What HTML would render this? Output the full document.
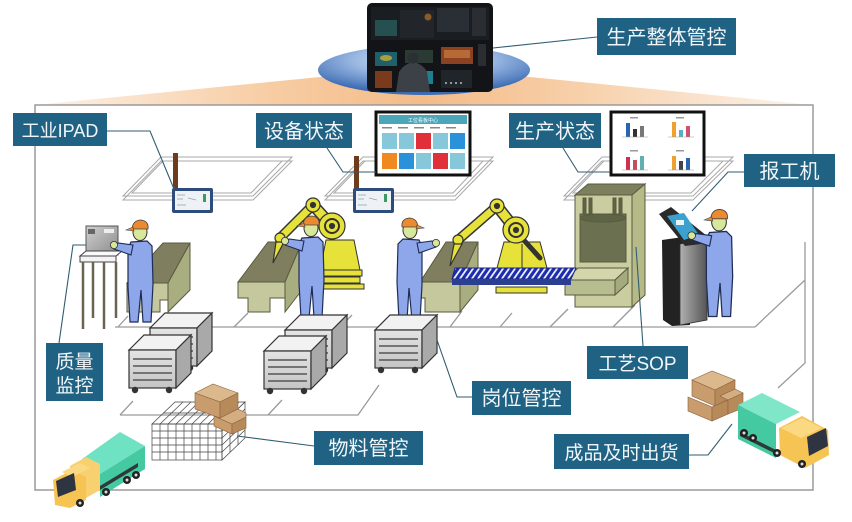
<!DOCTYPE html>
<html><head><meta charset="utf-8">
<style>
html,body{margin:0;padding:0;background:#fff;overflow:hidden;}
svg{display:block;}
.lt{fill:#f2f6f8;font-family:"Liberation Sans","Noto Sans CJK SC",sans-serif;text-anchor:middle;}
</style></head><body>
<svg width="852" height="522" viewBox="0 0 852 522" xmlns="http://www.w3.org/2000/svg">
<defs>
<linearGradient id="roof" x1="0" y1="0" x2="1" y2="0">
<stop offset="0" stop-color="#fdf1e6"/><stop offset="0.3" stop-color="#f7cda4"/><stop offset="0.5" stop-color="#f4bb88"/><stop offset="0.7" stop-color="#f7d0aa"/><stop offset="1" stop-color="#fdf3ea"/>
</linearGradient>
<radialGradient id="ell" cx="0.5" cy="0.3" r="0.65">
<stop offset="0" stop-color="#e6eefa"/><stop offset="0.5" stop-color="#9bb9e3"/><stop offset="1" stop-color="#3d6cb3"/>
</radialGradient>
<linearGradient id="cartf" x1="0" y1="0" x2="0" y2="1"><stop offset="0" stop-color="#e4e4e4"/><stop offset="1" stop-color="#c4c4c4"/></linearGradient>
<linearGradient id="kio" x1="0" y1="0" x2="1" y2="0"><stop offset="0" stop-color="#b0b0b0"/><stop offset="1" stop-color="#555"/></linearGradient>
<linearGradient id="inst" x1="0" y1="0" x2="1" y2="1"><stop offset="0" stop-color="#d0d0d0"/><stop offset="1" stop-color="#8a8a8a"/></linearGradient>
<pattern id="stripe" width="6" height="12" patternUnits="userSpaceOnUse" patternTransform="skewX(-35)">
<rect width="6" height="12" fill="#1b2cae"/><rect x="0" width="2.2" height="12" fill="#eef0ff"/>
</pattern>
<g id="cart">
<polygon points="0,15 15,0 62,0 47,15" fill="#f2f2f2" stroke="#333" stroke-width="1.2"/>
<rect x="0" y="15" width="47" height="38" fill="url(#cartf)" stroke="#333" stroke-width="1.2"/>
<g stroke="#555" stroke-width="1.6"><line x1="4" y1="24" x2="43" y2="24"/><line x1="4" y1="31" x2="43" y2="31"/><line x1="4" y1="38" x2="43" y2="38"/><line x1="4" y1="45" x2="43" y2="45"/></g>
<polygon points="47,15 62,0 62,38 47,53" fill="#a9a9a9" stroke="#333" stroke-width="1.2"/>
<circle cx="6" cy="55" r="3.2" fill="#333"/><circle cx="40" cy="55" r="3.2" fill="#333"/>
</g>
<g id="wk">
<path d="M-9,10 L7,9 L12,14 L13,52 L11,90 L3,90 L1,58 L-2,90 L-10,90 L-12,55 L-12,16 Z" fill="#8ea7ea" stroke="#1f2c55" stroke-width="1.2"/>
<path d="M-7,13 L-22,11 L-26,17 L-9,23 Z" fill="#8ea7ea" stroke="#1f2c55" stroke-width="1.1"/>
<circle cx="-26" cy="13" r="3.6" fill="#d7e79c" stroke="#333" stroke-width="0.8"/>
<ellipse cx="0" cy="0" rx="7" ry="8.5" fill="#d7e79c" stroke="#333" stroke-width="1"/>
<path d="M-8,-3 Q-7,-12 1,-12 Q9,-11 8,-3 Z" fill="#ec8a30" stroke="#444" stroke-width="0.8"/>
<path d="M-7,-5 L-14,-2 L-6,-1 Z" fill="#ec8a30" stroke="#444" stroke-width="0.6"/>
</g>
</defs>

<!-- roof and frame -->
<polygon points="35,105 330,76 520,76 813,105" fill="url(#roof)"/>
<rect x="35" y="105" width="778" height="385" fill="none" stroke="#9a9a9a" stroke-width="1.5"/>

<!-- floor lines -->
<g stroke="#9a9a9a" stroke-width="1.3" fill="none">
<line x1="115" y1="327" x2="755" y2="327"/>
<line x1="755" y1="327" x2="805" y2="280"/>
<polyline points="805,242 805,363 778,388"/>
<polyline points="120,415 358,415 379,385"/>
<line x1="120" y1="415" x2="133" y2="401"/>
<line x1="118" y1="327" x2="128" y2="316"/>
<line x1="234" y1="327" x2="248" y2="313"/>
<line x1="290" y1="327" x2="302" y2="315"/>
<line x1="340" y1="327" x2="352" y2="315"/>
<line x1="450" y1="327" x2="462" y2="311"/>
<line x1="500" y1="327" x2="512" y2="313"/>
<line x1="550" y1="327" x2="568" y2="309"/>
<line x1="613" y1="327" x2="635" y2="305"/>
<line x1="268" y1="415" x2="282" y2="400"/>
</g>

<!-- ceiling platforms -->
<g fill="none" stroke="#a8a8a8" stroke-width="1">
<polygon points="123,200 161,161 292,161 253,200"/>
<polygon points="123,196 161,157 292,157 253,196"/>
<polygon points="132,193 163,161 282,161 251,193"/>
<polygon points="325,200 363,161 493,161 455,200"/>
<polygon points="325,196 363,157 493,157 455,196"/>
<polygon points="334,193 365,161 483,161 453,193"/>
<polygon points="564,200 602,161 733,161 693,200"/>
<polygon points="564,196 602,157 733,157 693,196"/>
<polygon points="573,193 604,161 723,161 691,193"/>
</g>

<!-- poles and tablets -->
<rect x="173" y="153" width="5" height="37" fill="#6e3b1c"/>
<rect x="354" y="156" width="5" height="34" fill="#6e3b1c"/>
<rect x="172" y="188" width="41" height="25" rx="2" fill="#2d4c7c"/>
<rect x="175" y="191" width="35" height="19" fill="#eef2f6"/>
<g stroke="#8aa" stroke-width="0.8"><line x1="177" y1="195" x2="185" y2="195"/><line x1="177" y1="199" x2="183" y2="199"/><line x1="188" y1="198" x2="196" y2="200"/><line x1="177" y1="205" x2="186" y2="205"/></g>
<rect x="203" y="194" width="3" height="8" fill="#3a9a60"/>
<rect x="353" y="188" width="41" height="25" rx="2" fill="#2d4c7c"/>
<rect x="356" y="191" width="35" height="19" fill="#eef2f6"/>
<g stroke="#8aa" stroke-width="0.8"><line x1="358" y1="195" x2="366" y2="195"/><line x1="358" y1="199" x2="364" y2="199"/><line x1="369" y1="198" x2="377" y2="200"/><line x1="358" y1="205" x2="367" y2="205"/></g>
<rect x="384" y="194" width="3" height="8" fill="#3a9a60"/>

<!-- dashboard screen -->
<rect x="376" y="112" width="94" height="63" fill="#fff" stroke="#111" stroke-width="3"/>
<rect x="379" y="115" width="88" height="9" fill="#4aa6b8"/>
<text x="423" y="122" font-size="5" fill="#fff" font-family="Liberation Sans, Noto Sans CJK SC, sans-serif" text-anchor="middle">工位看板中心</text>
<g fill="#888"><rect x="382" y="127" width="10" height="1.5"/><rect x="398" y="127" width="10" height="1.5"/><rect x="414" y="127" width="10" height="1.5"/><rect x="430" y="127" width="10" height="1.5"/><rect x="446" y="127" width="10" height="1.5"/></g>
<rect x="382" y="133" width="15" height="16" fill="#86c7da"/>
<rect x="399" y="133" width="15" height="16" fill="#86c7da"/>
<rect x="416" y="133" width="15" height="16" fill="#e0303a"/>
<rect x="433" y="133" width="15" height="16" fill="#86c7da"/>
<rect x="450" y="133" width="15" height="16" fill="#2a92da"/>
<rect x="382" y="153" width="15" height="16" fill="#f08a20"/>
<rect x="399" y="153" width="15" height="16" fill="#2a92da"/>
<rect x="416" y="153" width="15" height="16" fill="#86c7da"/>
<rect x="433" y="153" width="15" height="16" fill="#e0303a"/>
<rect x="450" y="153" width="15" height="16" fill="#86c7da"/>

<!-- chart screen -->
<rect x="611" y="112" width="93" height="63" fill="#fff" stroke="#111" stroke-width="3"/>
<g>
<rect x="626" y="123" width="4" height="14" fill="#2a66b0"/><rect x="633" y="129" width="4" height="8" fill="#333"/><rect x="640" y="126" width="4" height="11" fill="#777"/>
<rect x="672" y="122" width="4" height="15" fill="#f0a030"/><rect x="679" y="130" width="4" height="7" fill="#5ab0c0"/><rect x="686" y="126" width="4" height="11" fill="#d05070"/>
<rect x="626" y="157" width="4" height="13" fill="#d03050"/><rect x="633" y="160" width="4" height="10" fill="#c05060"/><rect x="640" y="156" width="4" height="14" fill="#60b0b0"/>
<rect x="672" y="156" width="4" height="14" fill="#f0a030"/><rect x="679" y="161" width="4" height="9" fill="#444"/><rect x="686" y="158" width="4" height="12" fill="#2a66b0"/>
</g>
<g stroke="#999" stroke-width="0.6"><line x1="622" y1="137" x2="648" y2="137"/><line x1="668" y1="137" x2="694" y2="137"/><line x1="622" y1="170" x2="648" y2="170"/><line x1="668" y1="170" x2="694" y2="170"/></g>
<g fill="#999"><rect x="630" y="117" width="8" height="1.5"/><rect x="676" y="117" width="8" height="1.5"/><rect x="630" y="150" width="8" height="1.5"/><rect x="676" y="150" width="8" height="1.5"/></g>

<!-- workstations -->
<g stroke="#5a5a40" stroke-width="1">
<polygon points="127,283 163,243 190,243 168,283" fill="#7f7f60"/>
<polygon points="127,283 168,283 168,300 160,300 160,312 127,312" fill="#c4c89c"/>
<polygon points="168,283 190,243 190,290 168,312" fill="#a9ae80"/>

<polygon points="238,282 268,242 302,242 285,282" fill="#7f7f60"/>
<polygon points="238,282 285,282 285,298 270,298 270,312 248,312 248,298 238,298" fill="#c4c89c"/>
<polygon points="285,282 302,242 302,290 285,312" fill="#a9ae80"/>

<polygon points="420,282 446,242 478,242 460,282" fill="#7f7f60"/>
<polygon points="420,282 460,282 460,312 425,312 425,298 420,298" fill="#c4c89c"/>
<polygon points="460,282 478,242 478,290 460,312" fill="#a9ae80"/>
</g>

<!-- SOP machine -->
<g stroke="#5a5a40" stroke-width="1">
<polygon points="575,195 588,184 645,184 632,195" fill="#7d805e"/>
<rect x="575" y="195" width="57" height="112" fill="#c9cd9f"/>
<polygon points="632,195 645,184 645,295 632,307" fill="#b5ba88"/>
<rect x="580" y="214" width="46" height="48" fill="#6b7150"/>
<ellipse cx="603" cy="218" rx="23" ry="4" fill="#5e6446"/>
<rect x="583" y="198" width="3" height="16" fill="#5e6446"/><rect x="589" y="198" width="3" height="16" fill="#5e6446"/>
<rect x="613" y="198" width="3" height="16" fill="#5e6446"/><rect x="619" y="198" width="3" height="16" fill="#5e6446"/>
<polygon points="565,280 578,268 628,268 615,280" fill="#d2d6aa"/>
<rect x="565" y="280" width="50" height="15" fill="#b8bd8f"/>
<polygon points="615,280 628,268 628,283 615,295" fill="#a5aa7c"/>
</g>

<!-- robot 1 -->
<g stroke="#333" stroke-width="1">
<polygon points="326,240 354,240 360,270 320,270" fill="#e6e23a"/>
<rect x="320" y="270" width="42" height="6" fill="#e6e23a"/>
<rect x="324" y="277" width="36" height="6" fill="#e6e23a"/>
<rect x="318" y="284" width="46" height="5" fill="#e6e23a"/>
</g>
<g stroke-linecap="round">
<line x1="332" y1="226" x2="313" y2="205" stroke="#333" stroke-width="12"/>
<line x1="332" y1="226" x2="313" y2="205" stroke="#e6e23a" stroke-width="9"/>
<line x1="313" y1="205" x2="280" y2="238" stroke="#333" stroke-width="10"/>
<line x1="313" y1="205" x2="280" y2="238" stroke="#e6e23a" stroke-width="7"/>
</g>
<g stroke="#333" stroke-width="1.2">
<circle cx="332" cy="226" r="13" fill="#e6e23a"/><circle cx="332" cy="226" r="7" fill="#e6e23a" stroke-width="2"/><circle cx="332" cy="226" r="2.5" fill="#333"/>
<circle cx="313" cy="205" r="7" fill="#e6e23a"/><circle cx="313" cy="205" r="2.5" fill="#333"/>
<circle cx="280" cy="238" r="5" fill="#e6e23a"/>
<polygon points="276,242 284,242 273,263" fill="#e6e23a"/>
</g>

<!-- robot 2 -->
<g stroke="#333" stroke-width="1">
<polygon points="504,242 540,242 547,268 497,268" fill="#e6e23a"/>
<line x1="522" y1="244" x2="522" y2="268"/>
<rect x="496" y="287" width="51" height="6" fill="#e6e23a"/>
</g>
<g stroke-linecap="round">
<line x1="516" y1="230" x2="497" y2="206" stroke="#333" stroke-width="12"/>
<line x1="516" y1="230" x2="497" y2="206" stroke="#e6e23a" stroke-width="9"/>
<line x1="497" y1="206" x2="458" y2="240" stroke="#333" stroke-width="10"/>
<line x1="497" y1="206" x2="458" y2="240" stroke="#e6e23a" stroke-width="7"/>
<line x1="522" y1="238" x2="540" y2="258" stroke="#333" stroke-width="5"/>
</g>
<g stroke="#333" stroke-width="1.2">
<circle cx="516" cy="230" r="13" fill="#e6e23a"/><circle cx="516" cy="230" r="7" fill="#e6e23a" stroke-width="2"/><circle cx="516" cy="230" r="2.5" fill="#333"/>
<circle cx="497" cy="206" r="7" fill="#e6e23a"/><circle cx="497" cy="206" r="2.5" fill="#333"/>
<circle cx="458" cy="240" r="5" fill="#e6e23a"/>
<polygon points="454,244 462,244 450,266" fill="#e6e23a"/>
</g>

<!-- conveyor -->
<polygon points="455,268 576,268 571,279 452,279" fill="url(#stripe)" stroke="#1a2480" stroke-width="1"/>
<polygon points="452,279 571,279 571,285 452,285" fill="#2a3f8f"/>

<!-- kiosk -->
<polygon points="662,240 690,236 690,325 672,326 663,320" fill="#222"/>
<polygon points="680,244 707,238 707,320 680,325" fill="url(#kio)" stroke="#333" stroke-width="0.8"/>
<polygon points="659,214 671,207 707,236 701,244 685,246" fill="#2a2a2a"/>
<polygon points="667,216 684,213 699,235 684,240" fill="#3ba2cf"/>
<rect x="676" y="220" width="8" height="5" fill="#e8f4fa"/>

<!-- quality instrument -->
<rect x="86" y="226" width="32" height="29" fill="url(#inst)" stroke="#555" stroke-width="1"/>
<rect x="88" y="229" width="7" height="5" fill="#666"/>
<rect x="104" y="229" width="10" height="4" fill="#eee"/>
<polygon points="80,256 86,251 122,251 116,256" fill="#fafafa" stroke="#444" stroke-width="1"/>
<rect x="80" y="256" width="36" height="6" fill="#f4f4f4" stroke="#444" stroke-width="1"/>
<g stroke="#6a6450" stroke-width="2.5"><line x1="83" y1="262" x2="83" y2="329"/><line x1="93" y1="262" x2="93" y2="318"/><line x1="104" y1="262" x2="104" y2="329"/><line x1="116" y1="262" x2="116" y2="318"/></g>

<!-- workers -->
<use href="#wk" transform="translate(140,232)"/>
<use href="#wk" transform="translate(311,228)"/>
<use href="#wk" transform="translate(410,230) scale(-1,1)"/>
<use href="#wk" transform="translate(719,222) scale(1.05)"/>

<!-- carts -->
<use href="#cart" x="150" y="313"/>
<use href="#cart" x="129" y="335"/>
<use href="#cart" x="285" y="315"/>
<use href="#cart" x="264" y="336"/>
<use href="#cart" x="375" y="315"/>

<!-- cages -->
<g stroke="#444" stroke-width="0.7" fill="none">
<rect x="152" y="424" width="70" height="36"/>
<path d="M160,424V460M168,424V460M176,424V460M184,424V460M192,424V460M200,424V460M208,424V460M216,424V460M152,431H222M152,438H222M152,445H222M152,452H222"/>
<polygon points="152,424 175,402 245,402 222,424"/>
<path d="M160,424L183,402M168,424L191,402M176,424L199,402M184,424L207,402M192,424L215,402M200,424L223,402M208,424L231,402M216,424L239,402M163,413H233"/>
<polygon points="222,424 245,402 245,438 222,460"/>
<path d="M230,416V452M238,409V445M222,431L245,409M222,438L245,416M222,445L245,423M222,452L245,430"/>
</g>

<!-- boxes on cage -->
<g stroke="#8a6440" stroke-width="0.6">
<polygon points="195,393 213,384 238,393 220,402" fill="#dcb98c"/>
<polygon points="195,393 220,402 220,418 195,409" fill="#c89c6c"/>
<polygon points="220,402 238,393 238,409 220,418" fill="#b78a5a"/>
<polygon points="214,416 232,424 232,434 214,426" fill="#c89c6c"/>
<polygon points="232,424 246,417 246,428 232,434" fill="#b78a5a"/>
<polygon points="220,418 238,409 246,413 246,417 232,424 214,416" fill="#d4ae80"/>
</g>

<!-- right boxes -->
<g stroke="#8a6440" stroke-width="0.6">
<polygon points="692,380 712,371 735,380 715,390" fill="#dcb98c"/>
<polygon points="692,380 715,390 715,406 692,396" fill="#c89c6c"/>
<polygon points="715,390 735,380 735,396 715,406" fill="#b78a5a"/>
<polygon points="688,397 712,407 712,421 688,411" fill="#c89c6c"/>
<polygon points="712,407 728,400 728,414 712,421" fill="#b78a5a"/>
<polygon points="728,400 743,393 743,408 728,414" fill="#b78a5a"/>
<polygon points="735,389 743,393 728,400 720,396" fill="#d4ae80"/>
</g>

<!-- left truck -->
<polygon points="82,459 120,432 145,446 100,474" fill="#6fe2c4"/>
<polygon points="100,474 145,446 145,469 100,497" fill="#45c9a0"/>
<polygon points="100,486 138,463 138,467 100,490" fill="#2e3a3a"/>
<polygon points="70,466 86,457 100,464 100,490 86,498 70,490" fill="#f8d070"/>
<polygon points="53,480 72,470 86,477 86,500 70,508 55,505" fill="#f6c452"/>
<polygon points="62,472 80,463 90,468 72,477" fill="#fbd983"/>
<polygon points="56,481 74,473 76,490 58,497" fill="#2e3440"/>
<g fill="#222"><circle cx="80" cy="503" r="4"/><circle cx="106" cy="492" r="4"/><circle cx="127" cy="480" r="4"/><circle cx="136" cy="475" r="4"/></g>
<g fill="#ddd"><circle cx="80" cy="503" r="1.5"/><circle cx="106" cy="492" r="1.5"/><circle cx="127" cy="480" r="1.5"/><circle cx="136" cy="475" r="1.5"/></g>

<!-- right truck -->
<polygon points="738,405 762,393 800,412 776,424" fill="#7fe6c8"/>
<polygon points="738,405 776,424 776,458 738,439" fill="#45c9a0"/>
<polygon points="740,432 776,450 776,454 740,436" fill="#2e3a3a"/>
<polygon points="779,428 802,416 828,430 829,455 805,468 780,455" fill="#f6c452"/>
<polygon points="781,428 802,418 822,428 801,438" fill="#fbd983"/>
<polygon points="807,437 826,428 828,446 809,456" fill="#2e3440"/>
<g fill="#222"><circle cx="744" cy="433" r="4"/><circle cx="753" cy="438" r="4"/><circle cx="777" cy="453" r="4"/><circle cx="802" cy="464" r="4"/></g>
<g fill="#ddd"><circle cx="744" cy="433" r="1.5"/><circle cx="753" cy="438" r="1.5"/><circle cx="777" cy="453" r="1.5"/><circle cx="802" cy="464" r="1.5"/></g>

<!-- connectors -->
<g stroke="#2f5e72" stroke-width="1.1" fill="none">
<line x1="493" y1="48" x2="597" y2="37"/>
<polyline points="107,131 150,131 174,189"/>
<polyline points="327,148 343,172 376,172"/>
<polyline points="563,148 578,172 610,172"/>
<polyline points="744,172 728,172 692,211"/>
<polyline points="59,343 73,245 86,245"/>
<polyline points="472,397 457,397 437,340"/>
<line x1="314" y1="446" x2="237" y2="436"/>
<line x1="636" y1="247" x2="643" y2="346"/>
<polyline points="689,455 708,455 732,424"/>
</g>

<!-- ellipse & photo -->
<ellipse cx="424" cy="70" rx="106" ry="25" fill="url(#ell)"/>
<rect x="367" y="3" width="126" height="89" rx="5" fill="#121417"/>
<rect x="371" y="7" width="118" height="33" fill="#1a1e23"/>
<rect x="375" y="20" width="22" height="16" fill="#24504f"/>
<rect x="400" y="10" width="34" height="28" fill="#22262a"/>
<circle cx="428" cy="17" r="3.5" fill="#8a5a28"/>
<rect x="437" y="8" width="32" height="24" fill="#2a2f35"/>
<rect x="472" y="8" width="14" height="28" fill="#2a2e33"/>
<rect x="375" y="52" width="22" height="14" fill="#20606a"/>
<ellipse cx="386" cy="58" rx="6" ry="3" fill="#a8a040"/>
<rect x="405" y="50" width="28" height="13" fill="#2c3a34"/>
<rect x="441" y="47" width="32" height="17" fill="#8a4222"/>
<rect x="444" y="50" width="26" height="8" fill="#b86a34"/>
<rect x="375" y="71" width="17" height="17" fill="#7a3a1c"/>
<rect x="419" y="71" width="14" height="13" fill="#1f7f8e"/>
<rect x="441" y="70" width="31" height="18" fill="#20252a"/>
<g fill="#8a9aa0"><rect x="445" y="82" width="2" height="2"/><rect x="450" y="82" width="2" height="2"/><rect x="455" y="82" width="2" height="2"/><rect x="460" y="82" width="2" height="2"/></g>
<path d="M396,92 L399,72 Q404,64 413,62 Q423,64 427,72 L430,92 Z" fill="#3c4148"/>
<circle cx="413" cy="58" r="5.5" fill="#2c2f34"/>
<rect x="478" y="44" width="8" height="22" fill="#2a2e33"/>

<!-- labels -->
<rect x="597" y="18" width="139" height="37" fill="#1f6283"/>
<text class="lt" x="666.5" y="44" font-size="20">生产整体管控</text>
<rect x="13" y="113" width="94" height="33" fill="#1f6283"/>
<text class="lt" x="60" y="137" font-size="18">工业IPAD</text>
<rect x="256" y="113" width="96" height="35" fill="#1f6283"/>
<text class="lt" x="304" y="138" font-size="20">设备状态</text>
<rect x="509" y="113" width="92" height="35" fill="#1f6283"/>
<text class="lt" x="555" y="138" font-size="20">生产状态</text>
<rect x="744" y="154" width="91" height="33" fill="#1f6283"/>
<text class="lt" x="789.5" y="178" font-size="20">报工机</text>
<rect x="46" y="343" width="57" height="58" fill="#1f6283"/>
<text class="lt" x="74.5" y="368" font-size="19">质量</text>
<text class="lt" x="74.5" y="392" font-size="19">监控</text>
<rect x="472" y="381" width="99" height="34" fill="#1f6283"/>
<text class="lt" x="521.5" y="405" font-size="20">岗位管控</text>
<rect x="314" y="431" width="109" height="34" fill="#1f6283"/>
<text class="lt" x="368.5" y="455" font-size="20">物料管控</text>
<rect x="587" y="346" width="101" height="33" fill="#1f6283"/>
<text class="lt" x="637.5" y="370" font-size="19">工艺SOP</text>
<rect x="554" y="434" width="135" height="35" fill="#1f6283"/>
<text class="lt" x="621.5" y="459" font-size="19">成品及时出货</text>
</svg>
</body></html>
